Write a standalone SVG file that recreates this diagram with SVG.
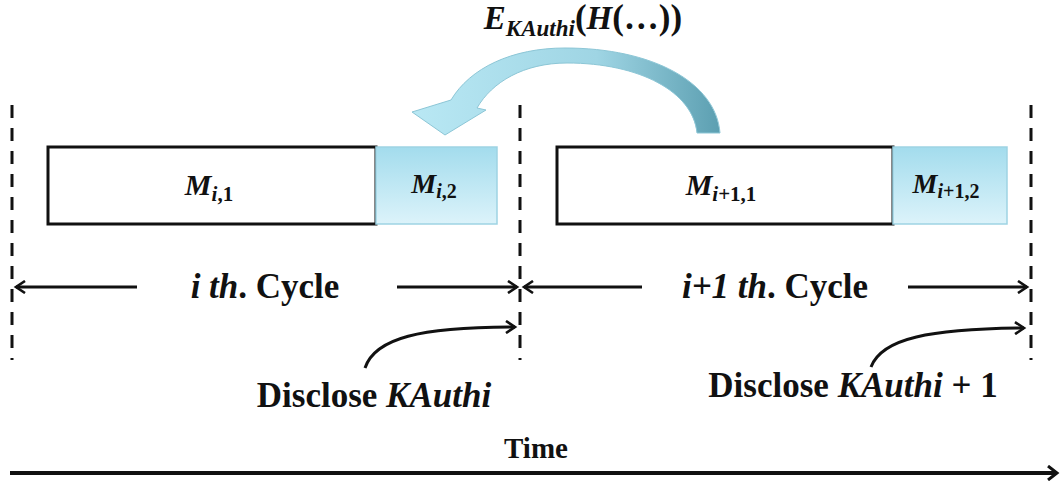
<svg xmlns="http://www.w3.org/2000/svg" width="1062" height="486" viewBox="0 0 1062 486">
<style>
.t{font-family:"Liberation Serif","Times New Roman",serif;font-weight:bold;fill:#111}
.it{font-style:italic}
.dash{stroke:#111;stroke-width:3;stroke-dasharray:13 10;fill:none}
.ln{stroke:#111;stroke-width:3;fill:none}
.wbox{fill:#fff;stroke:#111;stroke-width:3}
.bbox{fill:url(#bg);stroke:#9ed3e3;stroke-width:1.5}
</style>
<defs>
<linearGradient id="bg" x1="0" y1="0" x2="0" y2="1">
<stop offset="0" stop-color="#a3dced"/>
<stop offset="1" stop-color="#dcf3fa"/>
</linearGradient>
<linearGradient id="ag" x1="0" y1="0" x2="1" y2="0">
<stop offset="0" stop-color="#b9e8f4"/>
<stop offset="0.6" stop-color="#9fd5e4"/>
<stop offset="1" stop-color="#5c9fb1"/>
</linearGradient>
<marker id="ah" markerWidth="14" markerHeight="14" refX="11" refY="7" orient="auto" markerUnits="userSpaceOnUse">
<path d="M2,1 L11,7 L2,13" fill="none" stroke="#111" stroke-width="2.6"/>
</marker>
<marker id="ah2" markerWidth="16" markerHeight="16" refX="12" refY="8" orient="auto" markerUnits="userSpaceOnUse">
<path d="M3,1 L12,8 L3,15" fill="none" stroke="#111" stroke-width="3"/>
</marker>
</defs>

<g id="boundaries">
<line class="dash" x1="12" y1="105" x2="12" y2="360"/>
<line class="dash" x1="520" y1="105" x2="520" y2="360"/>
<line class="dash" x1="1031" y1="105" x2="1031" y2="360"/>
</g>

<g id="Mi1">
<rect class="wbox" x="48" y="147" width="328" height="77"/>
<text class="t" x="209" y="195" font-size="30" text-anchor="middle"><tspan class="it">M</tspan><tspan class="it" font-size="21" dy="6">i</tspan><tspan font-size="21">,1</tspan></text>
</g>
<g id="Mi2">
<rect class="bbox" x="376" y="147" width="121" height="77"/>
<text class="t" x="434" y="193" font-size="28" text-anchor="middle"><tspan class="it">M</tspan><tspan class="it" font-size="20" dy="5">i</tspan><tspan font-size="20">,2</tspan></text>
</g>
<g id="Mi11">
<rect class="wbox" x="557" y="147" width="336" height="77"/>
<text class="t" x="721" y="195" font-size="30" text-anchor="middle"><tspan class="it">M</tspan><tspan class="it" font-size="21" dy="6">i</tspan><tspan font-size="21">+1,1</tspan></text>
</g>
<g id="Mi12">
<rect class="bbox" x="893" y="147" width="114" height="77"/>
<text class="t" x="946" y="193" font-size="28" text-anchor="middle"><tspan class="it">M</tspan><tspan class="it" font-size="20" dy="5">i</tspan><tspan font-size="20">+1,2</tspan></text>
</g>

<g id="encrypt">
<path d="M720,133 L697,133 C693,92 640,63 567,63 C524,63 492,82 477,108 L486,110 L445,135 L412,112 L451,100 C470,68 512,48 565,48 C652,48 716,82 720,133 Z" fill="url(#ag)" stroke="#8cc6d6" stroke-width="1"/>
<text class="t it" x="583" y="29" font-size="33" text-anchor="middle"><tspan>E</tspan><tspan font-size="23" dy="7">KAuthi</tspan><tspan dy="-7" font-style="normal" font-size="35">(</tspan><tspan>H</tspan><tspan font-style="normal" font-size="35">(…))</tspan></text>
</g>

<g id="connectors">
<line class="ln" x1="137" y1="287" x2="16" y2="287" marker-end="url(#ah)"/>
<line class="ln" x1="397" y1="287" x2="517" y2="287" marker-end="url(#ah)"/>
<line class="ln" x1="642" y1="287" x2="524" y2="287" marker-end="url(#ah)"/>
<line class="ln" x1="908" y1="287" x2="1027" y2="287" marker-end="url(#ah)"/>
<path class="ln" d="M365,368 C375,338 420,327 515,327" marker-end="url(#ah)"/>
<path class="ln" d="M871,367 C882,338 930,329 1024,328" marker-end="url(#ah)"/>
<line x1="10" y1="473" x2="1057" y2="473" stroke="#111" stroke-width="4" marker-end="url(#ah2)"/>
</g>

<g id="labels">
<text class="t" x="265" y="298" font-size="35" text-anchor="middle"><tspan class="it">i th</tspan>. Cycle</text>
<text class="t" x="775" y="298" font-size="35" text-anchor="middle"><tspan class="it">i+1 th</tspan>. Cycle</text>
<text class="t" x="374" y="407" font-size="35" text-anchor="middle">Disclose <tspan class="it">KAuthi</tspan></text>
<text class="t" x="853" y="397" font-size="35" text-anchor="middle">Disclose <tspan class="it">KAuthi</tspan> + 1</text>
<text class="t" x="536" y="458" font-size="29" text-anchor="middle">Time</text>
</g>
</svg>
